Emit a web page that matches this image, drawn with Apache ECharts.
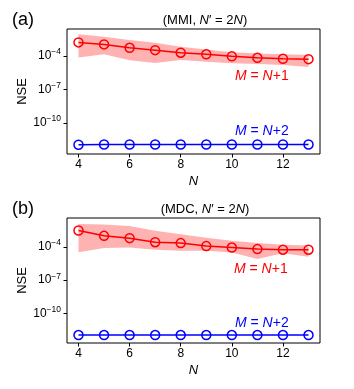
<!DOCTYPE html>
<html>
<head>
<meta charset="utf-8">
<script src="https://cdn.jsdelivr.net/npm/echarts@6/dist/echarts.min.js"></script>
<style>
  html, body { margin: 0; padding: 0; background: #fff; }
  #chart { width: 354px; height: 389px; }
</style>
</head>
<body>
<div id="chart"></div>
<script>
// N values
var nList = [4, 5, 6, 7, 8, 9, 10, 11, 12, 13];

// (a) MMI, N' = 2N
var mmiRed   = [1.58e-3, 1.05e-3, 5.2e-4, 3.2e-4, 1.9e-4, 1.35e-4, 8.9e-5, 6.6e-5, 5.4e-5, 5.0e-5];
var mmiUpper = [8.3e-3, 5.0e-3, 2.6e-3, 1.45e-3, 6.5e-4, 3.7e-4, 2.1e-4, 1.6e-4, 1.35e-4, 1.15e-4];
var mmiLower = [7.2e-5, 1.35e-4, 3.9e-5, 2.3e-5, 4.2e-5, 2.9e-5, 2.1e-5, 1.8e-5, 1.5e-5, 9.8e-6];
var mmiBlue  = [1.07e-12, 1.12e-12, 1.12e-12, 1.12e-12, 1.12e-12, 1.12e-12, 1.12e-12, 1.12e-12, 1.12e-12, 1.12e-12];

// (b) MDC, N' = 2N
var mdcRed   = [3.2e-3, 1.05e-3, 6.5e-4, 2.8e-4, 2.3e-4, 1.23e-4, 9.1e-5, 6.6e-5, 5.8e-5, 5.8e-5];
var mdcUpper = [1.26e-2, 1.1e-2, 8.3e-3, 3.0e-3, 1.5e-3, 7.2e-4, 3.7e-4, 2.3e-4, 1.6e-4, 1.4e-4];
var mdcLower = [3.5e-5, 8.1e-5, 9.1e-5, 5.8e-5, 4.7e-5, 4.7e-5, 3.2e-5, 8.3e-6, 2.75e-5, 1.35e-5];
var mdcBlue  = [1.05e-12, 1.05e-12, 1.05e-12, 1.05e-12, 1.05e-12, 1.05e-12, 1.05e-12, 1.05e-12, 1.05e-12, 1.05e-12];

var xTicks = [4, 6, 8, 10, 12];
var yTicks = [-10, -7, -4];   // decades shown

var FONT = 'Liberation Sans, Arial, sans-serif';

function lg(arr) {
    return arr.map(function (v, i) { return [nList[i], Math.log10(v)]; });
}

var chart = echarts.init(document.getElementById('chart'));

function makeX(idx) {
    return {
        type: 'value', gridIndex: idx, min: 3.55, max: 13.45,
        name: 'N', nameLocation: 'middle', nameGap: 21, nameMoveOverlap: false,
        nameTextStyle: { fontFamily: FONT, fontSize: 13, fontStyle: 'italic', color: '#000' },
        axisLine: { show: false },
        splitLine: { show: false },
        axisTick: { show: true, length: 3.5, lineStyle: { color: '#000' }, customValues: xTicks },
        axisLabel: { fontFamily: FONT, fontSize: 12, color: '#000', margin: 5, customValues: xTicks }
    };
}
function makeY(idx, mn, mx) {
    return {
        type: 'value', gridIndex: idx, min: mn, max: mx,
        name: 'NSE', nameLocation: 'middle', nameGap: 38, nameRotate: 90, nameMoveOverlap: false,
        nameTextStyle: { fontFamily: FONT, fontSize: 13, color: '#000' },
        axisLine: { show: false },
        splitLine: { show: false },
        axisTick: { show: true, length: 3.5, lineStyle: { color: '#000' }, customValues: yTicks },
        axisLabel: {
            fontFamily: FONT, fontSize: 12, color: '#000', margin: 6,
            customValues: yTicks,
            formatter: function (v) { return '10{s|\u2212' + Math.abs(Math.round(v)) + '}'; },
            rich: {
                s: { fontFamily: FONT, fontSize: 8.5, color: '#000', verticalAlign: 'top', padding: [0, 0, 8, 0] }
            }
        }
    };
}

// shaded spread between lower and upper, drawn as one polygon via the axis scales
function bandSeries(idx, up, lo) {
    var items = nList.map(function (n, i) { return [n, Math.log10(lo[i]), Math.log10(up[i])]; });
    return {
        type: 'custom', xAxisIndex: idx, yAxisIndex: idx, data: items, silent: true, z: 1,
        encode: { x: 0, y: [1, 2] },
        renderItem: function (params, api) {
            if (params.dataIndex !== 0) return null;
            var pts = [];
            items.forEach(function (d) { pts.push(api.coord([d[0], d[2]])); });
            for (var i = items.length - 1; i >= 0; i--) pts.push(api.coord([items[i][0], items[i][1]]));
            return {
                type: 'polygon',
                shape: { points: pts },
                style: { fill: 'rgba(255,0,0,0.3)', stroke: null }
            };
        }
    };
}

function panelSeries(idx, red, up, lo, blue) {
    return [
        bandSeries(idx, up, lo),
        {
            type: 'line', xAxisIndex: idx, yAxisIndex: idx, data: lg(red), z: 3,
            symbol: 'circle', symbolSize: 9, showAllSymbol: true,
            lineStyle: { color: '#ff0000', width: 1.5 },
            itemStyle: { color: 'rgba(255,255,255,0)', borderColor: '#ff0000', borderWidth: 1.5 }
        },
        {
            type: 'line', xAxisIndex: idx, yAxisIndex: idx, data: lg(blue), z: 3,
            symbol: 'circle', symbolSize: 9, showAllSymbol: true,
            lineStyle: { color: '#0000ff', width: 1.5 },
            itemStyle: { color: 'rgba(255,255,255,0)', borderColor: '#0000ff', borderWidth: 1.5 }
        }
    ];
}

function mLabel(x, y, txt, col) {
    return {
        type: 'text', left: x, top: y,
        style: {
            text: '{i|M} = {i|N}+' + txt,
            fill: col, font: '14px ' + FONT,
            rich: { i: { fontStyle: 'italic', fontFamily: FONT, fontSize: 14, fill: col } }
        }
    };
}

var option = {
    animation: false,
    backgroundColor: '#fff',
    title: [
        { text: '(a)', left: 7, top: 6, textStyle: { fontFamily: FONT, fontSize: 18, fontWeight: 'normal', color: '#000' } },
        { text: '(b)', left: 7, top: 195, textStyle: { fontFamily: FONT, fontSize: 18, fontWeight: 'normal', color: '#000' } },
        {
            text: '(MMI, {i|N}\u2032 = 2{i|N})', left: 200, top: 9, textAlign: 'center',
            textStyle: { fontFamily: FONT, fontSize: 13, fontWeight: 'normal', color: '#000',
                rich: { i: { fontStyle: 'italic', fontFamily: FONT, fontSize: 13 } } }
        },
        {
            text: '(MDC, {i|N}\u2032 = 2{i|N})', left: 200, top: 198, textAlign: 'center',
            textStyle: { fontFamily: FONT, fontSize: 13, fontWeight: 'normal', color: '#000',
                rich: { i: { fontStyle: 'italic', fontFamily: FONT, fontSize: 13 } } }
        }
    ],
    grid: [
        { left: 67, top: 29, width: 253, height: 125, show: true, borderColor: '#000', borderWidth: 1, backgroundColor: 'transparent' },
        { left: 67, top: 218, width: 253, height: 125, show: true, borderColor: '#000', borderWidth: 1, backgroundColor: 'transparent' }
    ],
    xAxis: [makeX(0), makeX(1)],
    yAxis: [makeY(0, -12.8, -1.6), makeY(1, -12.7, -1.36)],
    series: panelSeries(0, mmiRed, mmiUpper, mmiLower, mmiBlue)
        .concat(panelSeries(1, mdcRed, mdcUpper, mdcLower, mdcBlue)),
    graphic: [
        mLabel(235, 69, '1', '#ff0000'),
        mLabel(235, 124, '2', '#0000ff'),
        mLabel(234, 262, '1', '#ff0000'),
        mLabel(235, 316, '2', '#0000ff')
    ]
};
chart.setOption(option);
</script>
</body>
</html>
